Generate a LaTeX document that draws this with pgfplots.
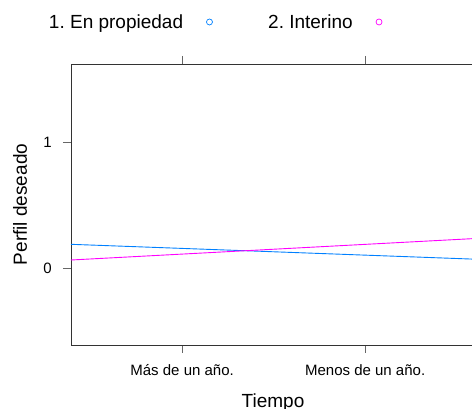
\documentclass[border=0pt]{standalone}
\usepackage{pgfplots}
\pgfplotsset{compat=1.18}
\usepackage{fontspec}
\setmainfont{Liberation Sans}
\definecolor{lblue}{HTML}{0080FF}
\definecolor{lmag}{HTML}{FF00FF}
\frenchspacing
\begin{document}
\frenchspacing
\begin{tikzpicture}[x=1pt,y=1pt]
\begin{axis}[
  at={(71pt,64pt)}, anchor=south west,
  scale only axis, width=404pt, height=281pt,
  xmin=0.393, xmax=2.6, ymin=-0.611, ymax=1.619,
  axis line style={black!80, line width=0.8pt},
  xtick={1,2}, xticklabels={Más de un año., Menos de un año.},
  ytick={0,1},
  xtick pos=both, xticklabel pos=bottom,
  ytick pos=left,
  tick align=outside, major tick length=8pt,
  tick style={black!60, line width=0.8pt},
  /pgf/number format/assume math mode=true,
  ticklabel style={font=\fontsize{15}{18}\selectfont, inner sep=0pt},
  xticklabel style={anchor=base, yshift=-22.7pt},
  yticklabel style={anchor=east, xshift=-11pt},
  xlabel={Tiempo}, ylabel={Perfil deseado},
  label style={font=\fontsize{19}{23}\selectfont, inner sep=0pt},
  xlabel style={at={(axis description cs:0.5,-0.2228)}, anchor=base},
  ylabel style={at={(axis description cs:-0.109,0.5)}, anchor=base},
  legend columns=2,
  legend plot pos=right,
  legend image code/.code={\path (0pt,0pt); \draw[#1] plot coordinates {(26pt,0pt)};},
  legend style={draw=none, fill=none, inner sep=0pt, outer sep=0pt,
    at={(axis description cs:-0.0545,1.1495)}, anchor=west,
    font=\fontsize{19}{23}\selectfont\frenchspacing,
    nodes={inner sep=0pt},
    /tikz/every even column/.append style={column sep=55.7pt}},
]
\addplot[lblue, line width=0.9pt, forget plot] coordinates {(0.393,0.188) (2.6,0.070)};
\addplot[lmag, line width=0.9pt, forget plot] coordinates {(0.393,0.0635) (2.6,0.234)};
\addlegendimage{only marks, mark=o, mark size=3pt, lblue, line width=0.7pt}
\addlegendentry{1. En propiedad}
\addlegendimage{only marks, mark=o, mark size=3pt, lmag, line width=0.7pt}
\addlegendentry{2. Interino}
\end{axis}
\pgfresetboundingbox
\useasboundingbox (0,0) rectangle (472,409);
\end{tikzpicture}
\end{document}
